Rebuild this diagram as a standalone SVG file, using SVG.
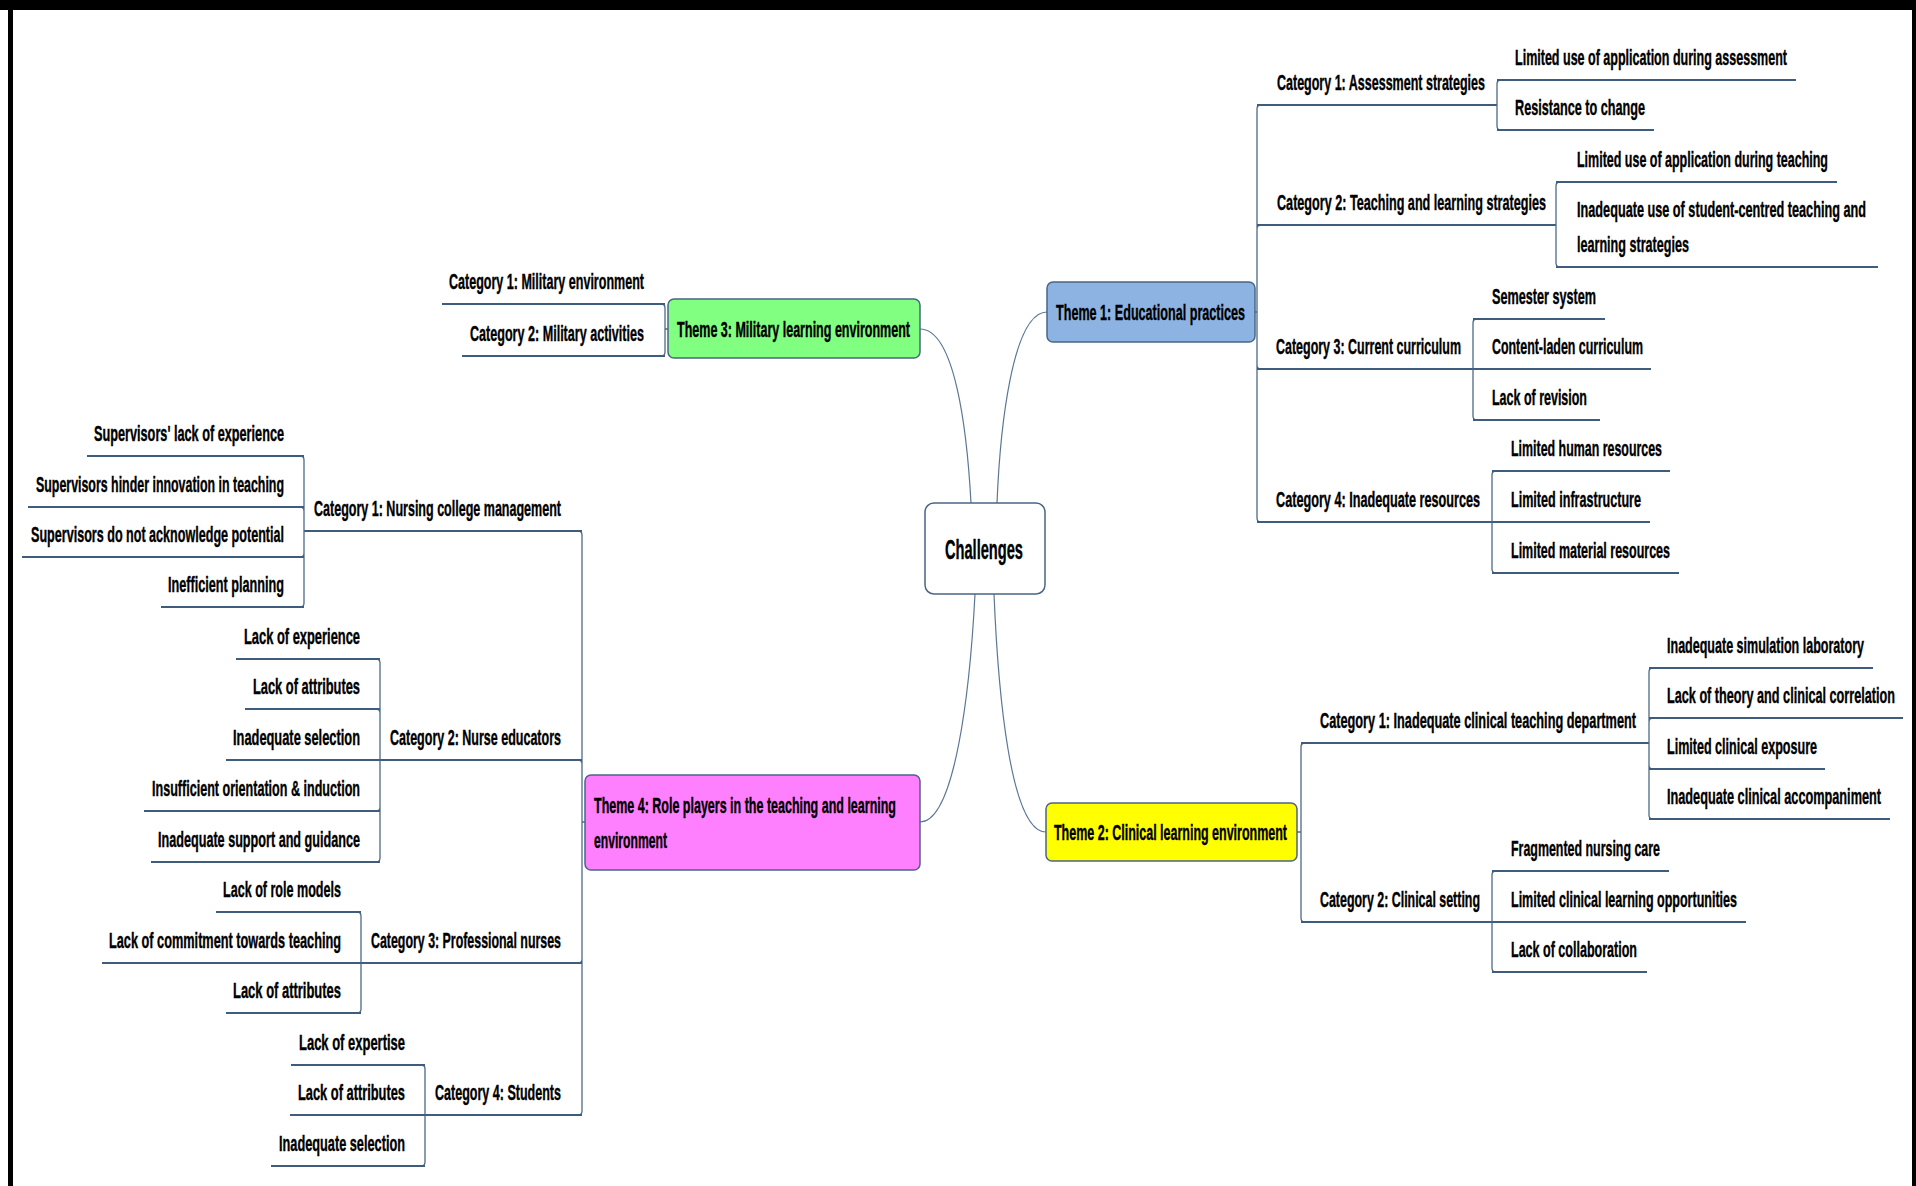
<svg xmlns="http://www.w3.org/2000/svg" width="1916" height="1186" viewBox="0 0 1916 1186">
  <style>
    .t { font-family: "Liberation Sans", Arial, sans-serif; font-weight: bold; font-size: 22px; fill: #000; stroke: #000; stroke-width: 0.4; }
    .th { font-size: 22px; }
    .root { font-size: 28px; }
    .box { stroke: #4a6684; stroke-width: 1.5; }
    .ul { stroke: #3e5c7c; stroke-width: 2; fill: none; }
    .sp { stroke: #4d6a88; stroke-width: 1.3; fill: none; }
    .cv { stroke: #5b7795; stroke-width: 1.2; fill: none; }
  </style>

  <!-- page frame -->
  <rect x="0" y="0" width="1916" height="1186" fill="#fff"/>
  <rect x="0" y="0" width="1916" height="10" fill="#000"/>
  <rect x="8" y="0" width="5" height="1186" fill="#000"/>
  <rect x="1912" y="0" width="4" height="1186" fill="#000"/>

  <!-- connectors -->
  <g id="connectors">
    <!-- root to themes -->
    <path class="cv" d="M920,329 C955,329 967,430 971,503"/>
    <path class="cv" d="M1047,312 C1012,312 1000,430 997,503"/>
    <path class="cv" d="M920,822 C955,822 970,690 975,594"/>
    <path class="cv" d="M1046,832 C1010,832 998,690 994,594"/>

    <!-- theme 1 spine -->
    <path class="sp" d="M1255,312 H1257 M1257,312 V109 Q1257,105 1261,105 M1257,312 V229 Q1257,225 1261,225 M1257,312 V365 Q1257,369 1261,369 M1257,312 V518 Q1257,522 1261,522"/>
    <path class="ul" d="M1257,105 H1497 M1257,225 H1556 M1257,369 H1473 M1257,522 H1492"/>
    <!-- theme 1 / category 1 -->
    <path class="sp" d="M1497,105 V84 Q1497,80 1501,80 M1497,105 V126 Q1497,130 1501,130"/>
    <path class="ul" d="M1497,80 H1796 M1497,130 H1654"/>
    <!-- theme 1 / category 2 -->
    <path class="sp" d="M1556,225 V186 Q1556,182 1560,182 M1556,225 V263 Q1556,267 1560,267"/>
    <path class="ul" d="M1556,182 H1837 M1556,267 H1878"/>
    <!-- theme 1 / category 3 -->
    <path class="sp" d="M1473,369 V323 Q1473,319 1477,319 M1473,369 V416 Q1473,420 1477,420"/>
    <path class="ul" d="M1473,319 H1605 M1473,369 H1651 M1473,420 H1600"/>
    <!-- theme 1 / category 4 -->
    <path class="sp" d="M1492,522 V475 Q1492,471 1496,471 M1492,522 V569 Q1492,573 1496,573"/>
    <path class="ul" d="M1492,471 H1670 M1492,522 H1650 M1492,573 H1679"/>

    <!-- theme 2 spine -->
    <path class="sp" d="M1297,832 H1301 M1301,832 V747 Q1301,743 1305,743 M1301,832 V918 Q1301,922 1305,922"/>
    <path class="ul" d="M1301,743 H1649 M1301,922 H1492"/>
    <!-- theme 2 / category 1 -->
    <path class="sp" d="M1649,743 V672 Q1649,668 1653,668 M1649,743 V722 Q1649,718 1653,718 M1649,743 V765 Q1649,769 1653,769 M1649,743 V815 Q1649,819 1653,819"/>
    <path class="ul" d="M1649,668 H1873 M1649,718 H1903 M1649,769 H1825 M1649,819 H1890"/>
    <!-- theme 2 / category 2 -->
    <path class="sp" d="M1492,922 V875 Q1492,871 1496,871 M1492,922 V968 Q1492,972 1496,972"/>
    <path class="ul" d="M1492,871 H1669 M1492,922 H1746 M1492,972 H1647"/>

    <!-- theme 3 spine -->
    <path class="sp" d="M668,329 H665 M665,329 V308 Q665,304 661,304 M665,329 V352 Q665,356 661,356"/>
    <path class="ul" d="M665,304 H442 M665,356 H462"/>

    <!-- theme 4 spine -->
    <path class="sp" d="M585,822 H582 M582,822 V535 Q582,531 578,531 M582,822 V764 Q582,760 578,760 M582,822 V959 Q582,963 578,963 M582,822 V1111 Q582,1115 578,1115"/>
    <path class="ul" d="M582,531 H304 M582,760 H380 M582,963 H361 M582,1115 H425"/>
    <!-- theme 4 / category 1 -->
    <path class="sp" d="M304,531 V460 Q304,456 300,456 M304,531 V511 Q304,507 300,507 M304,531 V553 Q304,557 300,557 M304,531 V603 Q304,607 300,607"/>
    <path class="ul" d="M304,456 H87 M304,507 H28 M304,557 H22 M304,607 H161"/>
    <!-- theme 4 / category 2 -->
    <path class="sp" d="M380,760 V663 Q380,659 376,659 M380,760 V713 Q380,709 376,709 M380,760 V807 Q380,811 376,811 M380,760 V858 Q380,862 376,862"/>
    <path class="ul" d="M380,659 H236 M380,709 H245 M380,760 H226 M380,811 H144 M380,862 H151"/>
    <!-- theme 4 / category 3 -->
    <path class="sp" d="M361,963 V916 Q361,912 357,912 M361,963 V1009 Q361,1013 357,1013"/>
    <path class="ul" d="M361,912 H216 M361,963 H102 M361,1013 H226"/>
    <!-- theme 4 / category 4 -->
    <path class="sp" d="M425,1115 V1069 Q425,1065 421,1065 M425,1115 V1162 Q425,1166 421,1166"/>
    <path class="ul" d="M425,1065 H291 M425,1115 H290 M425,1166 H271"/>
  </g>

  <!-- central topic -->
  <g id="root">
    <rect class="box" x="925" y="503" width="120" height="91" rx="9" fill="#fff"/>
    <text class="t root" x="945" y="559" textLength="78" lengthAdjust="spacingAndGlyphs">Challenges</text>
  </g>

  <!-- main themes -->
  <g id="theme1">
    <rect class="box" x="1047" y="282" width="208" height="60" rx="6" fill="#8db3e2"/>
    <text class="t th" x="1056" y="320" textLength="189" lengthAdjust="spacingAndGlyphs">Theme 1: Educational practices</text>
  </g>
  <g id="theme2">
    <rect class="box" x="1046" y="803" width="251" height="58" rx="6" fill="#ffff00"/>
    <text class="t th" x="1054" y="840" textLength="233" lengthAdjust="spacingAndGlyphs">Theme 2: Clinical learning environment</text>
  </g>
  <g id="theme3">
    <rect class="box" x="668" y="299" width="252" height="59" rx="6" fill="#80ff80"/>
    <text class="t th" x="677" y="337" textLength="233" lengthAdjust="spacingAndGlyphs">Theme 3: Military learning environment</text>
  </g>
  <g id="theme4">
    <rect class="box" x="585" y="775" width="335" height="95" rx="6" fill="#ff80ff"/>
    <text class="t th" x="594" y="813" textLength="302" lengthAdjust="spacingAndGlyphs">Theme 4: Role players in the teaching and learning</text>
    <text class="t th" x="594" y="848" textLength="73" lengthAdjust="spacingAndGlyphs">environment</text>
  </g>

  <!-- theme 1 categories and findings -->
  <g id="t1-cat1"><text class="t" x="1277" y="90" textLength="208" lengthAdjust="spacingAndGlyphs">Category 1: Assessment strategies</text></g>
  <g id="t1-c1-a"><text class="t" x="1515" y="65" textLength="272" lengthAdjust="spacingAndGlyphs">Limited use of application during assessment</text></g>
  <g id="t1-c1-b"><text class="t" x="1515" y="115" textLength="130" lengthAdjust="spacingAndGlyphs">Resistance to change</text></g>
  <g id="t1-cat2"><text class="t" x="1277" y="210" textLength="269" lengthAdjust="spacingAndGlyphs">Category 2: Teaching and learning strategies</text></g>
  <g id="t1-c2-a"><text class="t" x="1577" y="167" textLength="251" lengthAdjust="spacingAndGlyphs">Limited use of application during teaching</text></g>
  <g id="t1-c2-b">
    <text class="t" x="1577" y="217" textLength="289" lengthAdjust="spacingAndGlyphs">Inadequate use of student-centred teaching and</text>
    <text class="t" x="1577" y="252" textLength="112" lengthAdjust="spacingAndGlyphs">learning strategies</text>
  </g>
  <g id="t1-cat3"><text class="t" x="1276" y="354" textLength="185" lengthAdjust="spacingAndGlyphs">Category 3: Current curriculum</text></g>
  <g id="t1-c3-a"><text class="t" x="1492" y="304" textLength="104" lengthAdjust="spacingAndGlyphs">Semester system</text></g>
  <g id="t1-c3-b"><text class="t" x="1492" y="354" textLength="151" lengthAdjust="spacingAndGlyphs">Content-laden curriculum</text></g>
  <g id="t1-c3-c"><text class="t" x="1492" y="405" textLength="95" lengthAdjust="spacingAndGlyphs">Lack of revision</text></g>
  <g id="t1-cat4"><text class="t" x="1276" y="507" textLength="204" lengthAdjust="spacingAndGlyphs">Category 4: Inadequate resources</text></g>
  <g id="t1-c4-a"><text class="t" x="1511" y="456" textLength="151" lengthAdjust="spacingAndGlyphs">Limited human resources</text></g>
  <g id="t1-c4-b"><text class="t" x="1511" y="507" textLength="130" lengthAdjust="spacingAndGlyphs">Limited infrastructure</text></g>
  <g id="t1-c4-c"><text class="t" x="1511" y="558" textLength="159" lengthAdjust="spacingAndGlyphs">Limited material resources</text></g>

  <!-- theme 2 categories and findings -->
  <g id="t2-cat1"><text class="t" x="1320" y="728" textLength="316" lengthAdjust="spacingAndGlyphs">Category 1: Inadequate clinical teaching department</text></g>
  <g id="t2-c1-a"><text class="t" x="1667" y="653" textLength="197" lengthAdjust="spacingAndGlyphs">Inadequate simulation laboratory</text></g>
  <g id="t2-c1-b"><text class="t" x="1667" y="703" textLength="228" lengthAdjust="spacingAndGlyphs">Lack of theory and clinical correlation</text></g>
  <g id="t2-c1-c"><text class="t" x="1667" y="754" textLength="150" lengthAdjust="spacingAndGlyphs">Limited clinical exposure</text></g>
  <g id="t2-c1-d"><text class="t" x="1667" y="804" textLength="214" lengthAdjust="spacingAndGlyphs">Inadequate clinical accompaniment</text></g>
  <g id="t2-cat2"><text class="t" x="1320" y="907" textLength="160" lengthAdjust="spacingAndGlyphs">Category 2: Clinical setting</text></g>
  <g id="t2-c2-a"><text class="t" x="1511" y="856" textLength="149" lengthAdjust="spacingAndGlyphs">Fragmented nursing care</text></g>
  <g id="t2-c2-b"><text class="t" x="1511" y="907" textLength="226" lengthAdjust="spacingAndGlyphs">Limited clinical learning opportunities</text></g>
  <g id="t2-c2-c"><text class="t" x="1511" y="957" textLength="126" lengthAdjust="spacingAndGlyphs">Lack of collaboration</text></g>

  <!-- theme 3 categories -->
  <g id="t3-cat1"><text class="t" x="449" y="289" textLength="195" lengthAdjust="spacingAndGlyphs">Category 1: Military environment</text></g>
  <g id="t3-cat2"><text class="t" x="470" y="341" textLength="174" lengthAdjust="spacingAndGlyphs">Category 2: Military activities</text></g>

  <!-- theme 4 categories and findings -->
  <g id="t4-cat1"><text class="t" x="314" y="516" textLength="247" lengthAdjust="spacingAndGlyphs">Category 1: Nursing college management</text></g>
  <g id="t4-c1-a"><text class="t" x="94" y="441" textLength="190" lengthAdjust="spacingAndGlyphs">Supervisors' lack of experience</text></g>
  <g id="t4-c1-b"><text class="t" x="36" y="492" textLength="248" lengthAdjust="spacingAndGlyphs">Supervisors hinder innovation in teaching</text></g>
  <g id="t4-c1-c"><text class="t" x="31" y="542" textLength="253" lengthAdjust="spacingAndGlyphs">Supervisors do not acknowledge potential</text></g>
  <g id="t4-c1-d"><text class="t" x="168" y="592" textLength="116" lengthAdjust="spacingAndGlyphs">Inefficient planning</text></g>
  <g id="t4-cat2"><text class="t" x="390" y="745" textLength="171" lengthAdjust="spacingAndGlyphs">Category 2: Nurse educators</text></g>
  <g id="t4-c2-a"><text class="t" x="244" y="644" textLength="116" lengthAdjust="spacingAndGlyphs">Lack of experience</text></g>
  <g id="t4-c2-b"><text class="t" x="253" y="694" textLength="107" lengthAdjust="spacingAndGlyphs">Lack of attributes</text></g>
  <g id="t4-c2-c"><text class="t" x="233" y="745" textLength="127" lengthAdjust="spacingAndGlyphs">Inadequate selection</text></g>
  <g id="t4-c2-d"><text class="t" x="152" y="796" textLength="208" lengthAdjust="spacingAndGlyphs">Insufficient orientation &amp; induction</text></g>
  <g id="t4-c2-e"><text class="t" x="158" y="847" textLength="202" lengthAdjust="spacingAndGlyphs">Inadequate support and guidance</text></g>
  <g id="t4-cat3"><text class="t" x="371" y="948" textLength="190" lengthAdjust="spacingAndGlyphs">Category 3: Professional nurses</text></g>
  <g id="t4-c3-a"><text class="t" x="223" y="897" textLength="118" lengthAdjust="spacingAndGlyphs">Lack of role models</text></g>
  <g id="t4-c3-b"><text class="t" x="109" y="948" textLength="232" lengthAdjust="spacingAndGlyphs">Lack of commitment towards teaching</text></g>
  <g id="t4-c3-c"><text class="t" x="233" y="998" textLength="108" lengthAdjust="spacingAndGlyphs">Lack of attributes</text></g>
  <g id="t4-cat4"><text class="t" x="435" y="1100" textLength="126" lengthAdjust="spacingAndGlyphs">Category 4: Students</text></g>
  <g id="t4-c4-a"><text class="t" x="299" y="1050" textLength="106" lengthAdjust="spacingAndGlyphs">Lack of expertise</text></g>
  <g id="t4-c4-b"><text class="t" x="298" y="1100" textLength="107" lengthAdjust="spacingAndGlyphs">Lack of attributes</text></g>
  <g id="t4-c4-c"><text class="t" x="279" y="1151" textLength="126" lengthAdjust="spacingAndGlyphs">Inadequate selection</text></g>
</svg>
